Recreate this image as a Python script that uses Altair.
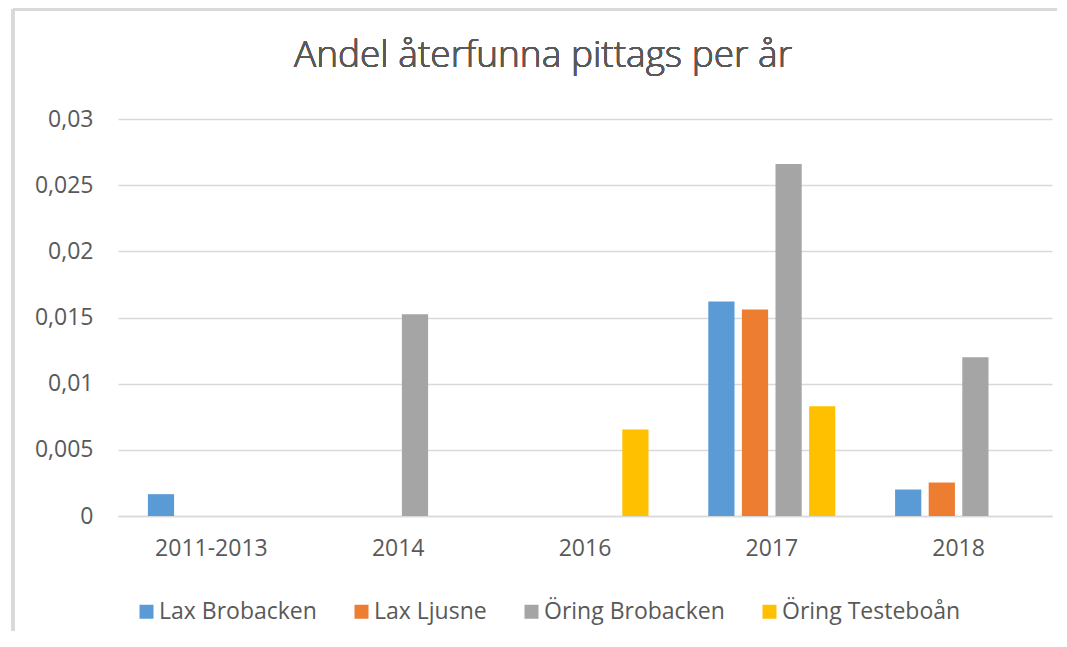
import altair as alt
import pandas as pd

title_text = "Andel återfunna pittags per år"
categories = ["2011-2013", "2014", "2016", "2017", "2018"]
series = ["Lax Brobacken", "Lax Ljusne", "Öring Brobacken", "Öring Testeboån"]
colors = ["#5B9BD5", "#ED7D31", "#A5A5A5", "#FFC000"]

lax_brobacken = [0.00165, None, None, 0.0162, 0.0020]
lax_ljusne = [None, None, None, 0.0156, 0.00253]
oring_brobacken = [None, 0.01524, None, 0.0266, 0.0120]
oring_testeboan = [None, None, 0.00654, 0.0083, None]

y_ticks = [0, 0.005, 0.01, 0.015, 0.02, 0.025, 0.03]

rows = []
for name, vals in zip(series, [lax_brobacken, lax_ljusne, oring_brobacken, oring_testeboan]):
    for cat, v in zip(categories, vals):
        if v is not None:
            rows.append({"År": cat, "Serie": name, "Andel": v})
df = pd.DataFrame(rows)

FONT = "Open Sans"
TXT = "#595959"
GRID = "#D9D9D9"

bars = alt.Chart(df).mark_bar().encode(
    x=alt.X("År:N", sort=categories,
            scale=alt.Scale(domain=categories, paddingInner=0.32, paddingOuter=0.16),
            axis=alt.Axis(title=None, labelAngle=0, labelFontSize=23, labelColor=TXT,
                          labelFont=FONT, labelPadding=21, ticks=False,
                          domainColor=GRID, domainWidth=1.5)),
    xOffset=alt.XOffset("Serie:N", sort=series,
                        scale=alt.Scale(domain=series, paddingInner=0.22, paddingOuter=0)),
    y=alt.Y("Andel:Q", scale=alt.Scale(domain=[0, 0.03], nice=False),
            axis=alt.Axis(title=None, values=y_ticks, labelFontSize=23, labelColor=TXT,
                          labelFont=FONT, labelPadding=25, ticks=False, domain=False,
                          gridColor=GRID, gridWidth=1.5,
                          labelExpr="replace(format(datum.value, '~g'), '.', ',')")),
    color=alt.Color("Serie:N", sort=series,
                    scale=alt.Scale(domain=series, range=colors),
                    legend=alt.Legend(title=None, orient="none", legendX=17, legendY=481,
                                      direction="horizontal", symbolType="square",
                                      symbolSize=196, symbolStrokeWidth=0,
                                      labelFontSize=23, labelColor=TXT, labelFont=FONT,
                                      labelOffset=1, columnPadding=33, padding=0,
                                      labelLimit=400)),
)

frame_top = alt.Chart(df).mark_rule(color=GRID, strokeWidth=3).encode(
    x=alt.value(-105), x2=alt.value(945), y=alt.value(-110))
frame_left = alt.Chart(df).mark_rule(color=GRID, strokeWidth=3).encode(
    x=alt.value(-105), y=alt.value(-110), y2=alt.value(520))

title = alt.Chart(df).mark_text(
    text=title_text, font=FONT, fontSize=37, fontWeight=300, color=TXT, align="center",
    baseline="alphabetic").encode(x=alt.value(425), y=alt.value(-52))

chart = alt.layer(frame_top, frame_left, title, bars).properties(
    width=934, height=397,
    autosize=alt.AutoSizeParams(type="none"),
    padding={"left": 110, "top": 111, "right": 5, "bottom": 115},
).configure(background="white").configure_view(stroke=None)

chart.save("out.html", embed_options={"renderer": "svg", "actions": False})
